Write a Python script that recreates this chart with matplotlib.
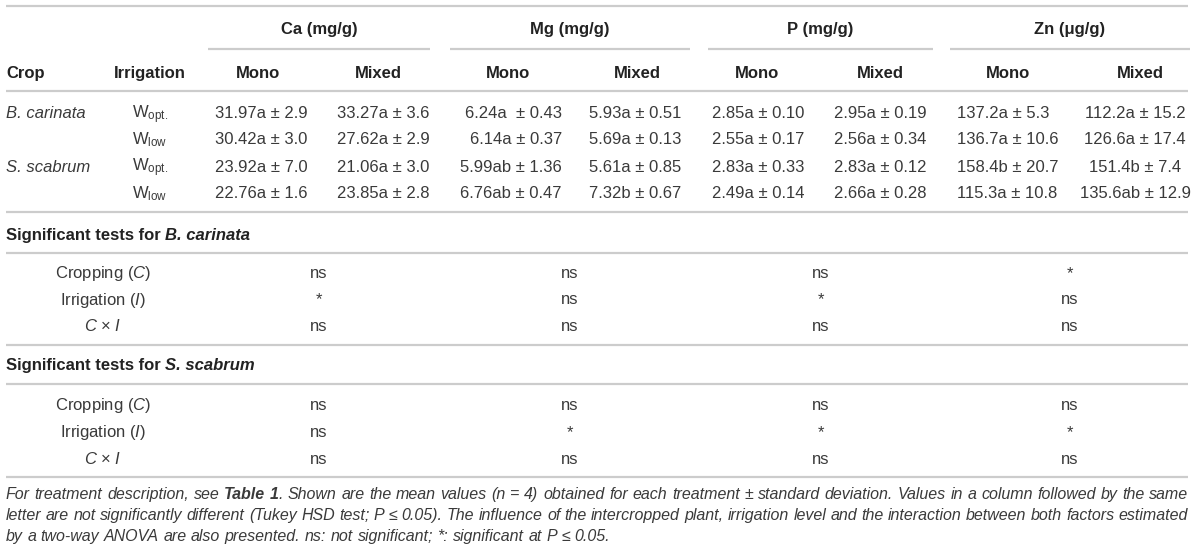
import matplotlib
matplotlib.use("Agg")
import matplotlib.pyplot as plt

plt.rcParams['font.family'] = ['Liberation Sans', 'DejaVu Sans']
plt.rcParams['mathtext.fontset'] = 'custom'
plt.rcParams['mathtext.rm'] = 'Liberation Sans'
plt.rcParams['mathtext.it'] = 'Liberation Sans:italic'
plt.rcParams['mathtext.bf'] = 'Liberation Sans:bold'

# table content
elements = ["Ca (mg/g)", "Mg (mg/g)", "P (mg/g)", "Zn (μg/g)"]
systems = ["Mono", "Mixed"]
crops = ["B. carinata", "", "S. scabrum", ""]
irrigation = ["opt.", "low", "opt.", "low"]

ca_mono = ["31.97a ± 2.9", "30.42a ± 3.0", "23.92a ± 7.0", "22.76a ± 1.6"]
ca_mixed = ["33.27a ± 3.6", "27.62a ± 2.9", "21.06a ± 3.0", "23.85a ± 2.8"]
mg_mono = ["6.24a  ± 0.43", "6.14a ± 0.37", "5.99ab ± 1.36", "6.76ab ± 0.47"]
mg_mixed = ["5.93a ± 0.51", "5.69a ± 0.13", "5.61a ± 0.85", "7.32b ± 0.67"]
p_mono = ["2.85a ± 0.10", "2.55a ± 0.17", "2.83a ± 0.33", "2.49a ± 0.14"]
p_mixed = ["2.95a ± 0.19", "2.56a ± 0.34", "2.83a ± 0.12", "2.66a ± 0.28"]
zn_mono = ["137.2a ± 5.3", "136.7a ± 10.6", "158.4b ± 20.7", "115.3a ± 10.8"]
zn_mixed = ["112.2a ± 15.2", "126.6a ± 17.4", "151.4b ± 7.4", "135.6ab ± 12.9"]

test_labels = ["Cropping ($\\mathit{C}$)", "Irrigation ($\\mathit{I}$)", "$\\mathit{C}$ × $\\mathit{I}$"]
bc_cropping = ["ns", "ns", "ns", "*"]
bc_irrigation = ["*", "ns", "*", "ns"]
bc_interaction = ["ns", "ns", "ns", "ns"]
ss_cropping = ["ns", "ns", "ns", "ns"]
ss_irrigation = ["ns", "*", "*", "*"]
ss_interaction = ["ns", "ns", "ns", "ns"]

# |...| marks bold runs
caption = [
    "For treatment description, see |Table 1|. Shown are the mean values (n = 4) obtained for each treatment ± standard deviation. Values in a column followed by the same",
    "letter are not significantly different (Tukey HSD test; P ≤ 0.05). The influence of the intercropped plant, irrigation level and the interaction between both factors estimated",
    "by a two-way ANOVA are also presented. ns: not significant; *: significant at P ≤ 0.05.",
]

# layout (pixels)
FS = 12
CFS = 11.5
OFF = 6          # baseline offset from visual row centre
TXT = '#3a3a3a'
HDR = '#222222'
LINE = '#cccccc'
X0, X1 = 6, 1188
group_spans = [(208, 430), (450, 690), (708, 933), (950, 1190)]
col_x = [(258, 378), (508, 637), (757, 880), (1008, 1140)]
val_x = [(261, 383), (510, 635), (758, 880), (1005, 1135)]
row_y = [112, 138.5, 165.5, 192]

fig = plt.figure(figsize=(12, 5.5), dpi=100)
ax = fig.add_axes([0, 0, 1, 1])
ax.set_xlim(0, 1200)
ax.set_ylim(550, 0)
ax.axis('off')
renderer = fig.canvas.get_renderer()


def hline(y, x0=X0, x1=X1):
    ax.plot([x0, x1], [y, y], color=LINE, lw=1.6, solid_capstyle='butt')


def put(x, y, s, ha='center', **kw):
    kw.setdefault('fontsize', FS)
    kw.setdefault('color', TXT)
    return ax.text(x, y + OFF, s, ha=ha, va='baseline', **kw)


def width_of(t):
    return t.get_window_extent(renderer).width


def words_line(y, words, x0, x1=None, **kw):
    # each word is a list of (text, props) runs; words spread to x1 when given
    placed = []
    for runs in words:
        objs = []
        for s, extra in runs:
            props = dict(kw)
            props.update(extra)
            objs.append(put(0, y, s, ha='left', **props))
        placed.append((objs, [width_of(o) for o in objs]))
    sp = ax.text(0, y, "a a", **kw)
    nsp = ax.text(0, y, "aa", **kw)
    space = width_of(sp) - width_of(nsp)
    sp.remove()
    nsp.remove()
    total = sum(sum(ws) for _, ws in placed)
    if x1 is not None and len(placed) > 1:
        space = (x1 - x0 - total) / (len(placed) - 1)
    x = x0
    for objs, ws in placed:
        for o, w in zip(objs, ws):
            o.set_x(x)
            x += w
        x += space


def parse_caption(line):
    words = []
    bold = False
    for w in line.split(" "):
        runs = []
        for k, piece in enumerate(w.split("|")):
            if k > 0:
                bold = not bold
            if piece:
                runs.append((piece, {'fontweight': 'bold'} if bold else {}))
        words.append(runs)
    return words


# header
hline(6)
for (a, b), name in zip(group_spans, elements):
    put((a + b) / 2, 28, name, fontweight='bold', color=HDR)
    hline(49, a, b)
put(X0, 72, "Crop", ha='left', fontweight='bold', color=HDR)
put(150, 72, "Irrigation", fontweight='bold', color=HDR)
for (xm, xx) in col_x:
    put(xm, 72, systems[0], fontweight='bold', color=HDR)
    put(xx, 72, systems[1], fontweight='bold', color=HDR)
hline(91)

# data rows
columns = [(ca_mono, ca_mixed), (mg_mono, mg_mixed), (p_mono, p_mixed), (zn_mono, zn_mixed)]
for i, y in enumerate(row_y):
    put(X0, y, crops[i], ha='left', style='italic')
    put(150, y, "W$_{\\mathrm{" + irrigation[i] + "}}$")
    for k, ((mono, mixed), (xm, xx)) in enumerate(zip(columns, val_x)):
        if k == 1:
            put(562, y, mono[i], ha='right')
        elif k == 3:
            put(957, y, mono[i], ha='left')
        else:
            put(xm, y, mono[i])
        put(xx, y, mixed[i])
hline(212)

# significance blocks
group_cx = [(a + b) / 2 for a, b in group_spans]
blocks = [("B. carinata", 234, 253, [bc_cropping, bc_irrigation, bc_interaction], [272, 298.5, 325], 345),
          ("S. scabrum", 364, 384, [ss_cropping, ss_irrigation, ss_interaction], [404, 431, 457.5], 477)]
for species, yh, yl, tests, ys, yend in blocks:
    words_line(yh, [[("Significant tests for", {})], [(species, {'style': 'italic'})]],
               X0, fontsize=FS, fontweight='bold', color=HDR)
    hline(yl)
    for lab, vals, y in zip(test_labels, tests, ys):
        put(103, y, lab)
        for cx, v in zip(group_cx, vals):
            put(cx, y, v)
    hline(yend)

# caption
cap_y = [493, 514, 535]
for j, (line, y) in enumerate(zip(caption, cap_y)):
    words_line(y, parse_caption(line), X0, X1 if j < 2 else None,
               fontsize=CFS, style='italic', color=TXT)

fig.savefig("out.png", dpi=100)
